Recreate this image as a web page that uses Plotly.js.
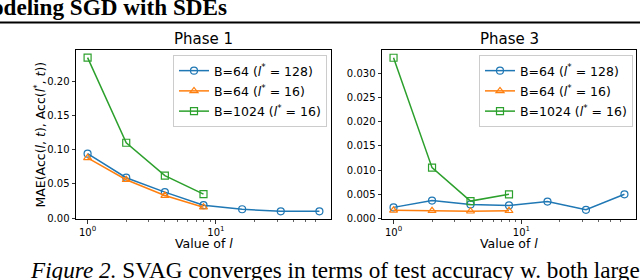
<!DOCTYPE html>
<html>
<head>
<meta charset="utf-8">
<script src="https://cdn.plot.ly/plotly-3.0.1.min.js"></script>
<style>html,body{margin:0;padding:0;background:#fff;}#chart{width:640px;height:280px;}</style>
</head>
<body>
<div id="chart"></div>
<script>
// Data
const lValues = [1, 2, 4, 8, 16, 32, 64];
const lShort = [1, 2, 4, 8];
const seriesNames = [
  'B=64 (<i>l</i><sup>*</sup> = 128)',
  'B=64 (<i>l</i><sup>*</sup> = 16)',
  'B=1024 (<i>l</i><sup>*</sup> = 16)'
];
const phase1_B64_l128 = [0.094, 0.059, 0.038, 0.019, 0.013, 0.010, 0.010];
const phase1_B64_l16 = [0.088, 0.056, 0.033, 0.016];
const phase1_B1024_l16 = [0.234, 0.110, 0.062, 0.035];
const phase3_B64_l128 = [0.0023, 0.0037, 0.0029, 0.0027, 0.0035, 0.0018, 0.0050];
const phase3_B64_l16 = [0.0017, 0.0016, 0.0015, 0.0016];
const phase3_B1024_l16 = [0.0332, 0.0105, 0.0036, 0.0050];
const xTickVals = [1, 10];
const xTickText = ['10<sup>0</sup>', '10<sup>1</sup>'];
const xMinorVals = [2, 3, 4, 5, 6, 7, 8, 9, 20, 30, 40, 50, 60];
const panelTitles = ['Phase 1', 'Phase 3'];

const colors = ['#1f77b4', '#ff7f0e', '#2ca02c'];
const symbols = ['circle-open', 'triangle-up-open', 'square-open'];
const FONT = 'DejaVu Sans, sans-serif';
const W = 640, H = 280;

function tr(x, y, i, xa, ya, legend) {
  return {
    x: x, y: y, type: 'scatter', mode: 'lines+markers',
    name: seriesNames[i], xaxis: xa, yaxis: ya, legend: legend,
    legendgroup: legend + i,
    line: {color: colors[i], width: 1.5},
    marker: {symbol: symbols[i], size: 7, color: colors[i], line: {width: 1.2, color: colors[i]}},
    hoverinfo: 'skip'
  };
}

const data = [
  tr(lValues, phase1_B64_l128, 0, 'x', 'y', 'legend'),
  tr(lShort, phase1_B64_l16, 1, 'x', 'y', 'legend'),
  tr(lShort, phase1_B1024_l16, 2, 'x', 'y', 'legend'),
  tr(lValues, phase3_B64_l128, 0, 'x2', 'y2', 'legend2'),
  tr(lShort, phase3_B64_l16, 1, 'x2', 'y2', 'legend2'),
  tr(lShort, phase3_B1024_l16, 2, 'x2', 'y2', 'legend2')
];

function xax(domain, anchor) {
  return {
    type: 'log', domain: domain, anchor: anchor, range: [-0.0903, 1.8965],
    tickmode: 'array', tickvals: xTickVals, ticktext: xTickText,
    ticks: 'outside', ticklen: 3.5, tickwidth: 0.8, tickcolor: '#000',
    minor: {tickmode: 'array', tickvals: xMinorVals, ticks: 'outside', ticklen: 2, tickwidth: 0.6, tickcolor: '#000', showgrid: false},
    showline: true, linecolor: '#000', linewidth: 1, mirror: true,
    showgrid: false, zeroline: false,
    tickfont: {family: FONT, size: 10, color: '#000'}
  };
}
function yax(domain, anchor, range, dtick, fmt) {
  return {
    domain: domain, anchor: anchor, range: range,
    tick0: 0, dtick: dtick, tickformat: fmt,
    ticks: 'outside', ticklen: 3.5, tickwidth: 0.8, tickcolor: '#000',
    showline: true, linecolor: '#000', linewidth: 1, mirror: true,
    showgrid: false, zeroline: false,
    tickfont: {family: FONT, size: 10, color: '#000'}
  };
}
const yDom = [1 - 219 / H, 1 - 50 / H];
function leg(xpx) {
  return {
    x: xpx / W, y: 1 - 55 / H, xanchor: 'left', yanchor: 'top',
    bgcolor: 'rgba(255,255,255,0.85)', bordercolor: '#cccccc', borderwidth: 1,
    font: {family: FONT, size: 12.5, color: '#000'}, tracegroupgap: 1,
    itemwidth: 30
  };
}

const ann = [];
function text(t, xpx, ypx, opts) {
  ann.push(Object.assign({
    text: t, x: xpx / W, y: 1 - ypx / H, xref: 'paper', yref: 'paper',
    showarrow: false, xanchor: 'center', yanchor: 'middle',
    font: {family: FONT, size: 12.5, color: '#000'}
  }, opts || {}));
}
text(panelTitles[0], 203.5, 39.5, {font: {family: FONT, size: 15, color: '#000'}});
text(panelTitles[1], 509, 39.5, {font: {family: FONT, size: 15, color: '#000'}});
text('Value of <i>l</i>', 203.5, 243);
text('Value of <i>l</i>', 509, 243);
text('MAE(Acc(<i>l</i>, <i>t</i>), Acc(<i>l</i><sup>*</sup>, <i>t</i>))', 39, 134.5, {textangle: -90});
text('<b>Modeling SGD with SDEs</b>', 229, 7.4, {xanchor: 'right', font: {family: 'Liberation Serif, serif', size: 23.2, color: '#000'}});
text('<i>Figure 2.</i> SVAG converges in terms of test accuracy w. both large', 28, 270.4, {xanchor: 'left', font: {family: 'Liberation Serif, serif', size: 23.2, color: '#000'}});

const layout = {
  width: W, height: H, margin: {l: 0, r: 0, t: 0, b: 0},
  paper_bgcolor: '#fff', plot_bgcolor: '#fff', showlegend: true,
  xaxis: xax([76 / W, 331 / W], 'y'),
  yaxis: yax(yDom, 'x', [-0.0012, 0.2452], 0.05, '.2f'),
  xaxis2: xax([382 / W, 636 / W], 'y2'),
  yaxis2: yax(yDom, 'x2', [-0.0001, 0.0348], 0.005, '.3f'),
  legend: leg(173),
  legend2: leg(479),
  annotations: ann,
  shapes: [{type: 'line', xref: 'paper', yref: 'paper', x0: 0, x1: 1, y0: 1 - 22.5 / H, y1: 1 - 22.5 / H, line: {color: '#000', width: 2}}]
};

Plotly.newPlot('chart', data, layout, {staticPlot: true, displayModeBar: false});
</script>
</body>
</html>
